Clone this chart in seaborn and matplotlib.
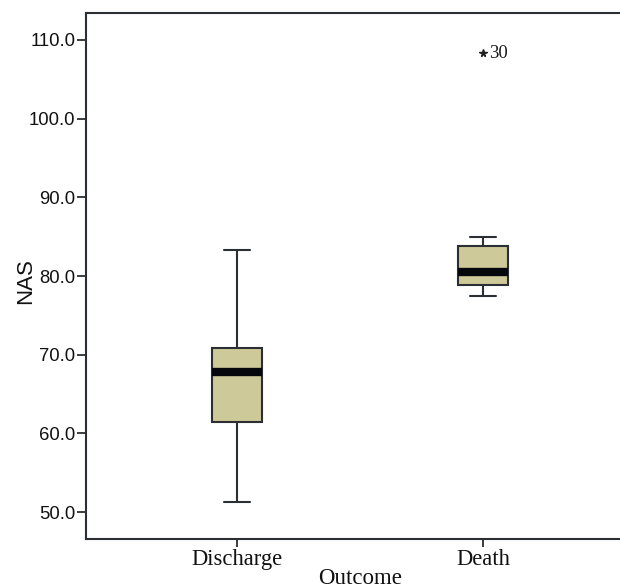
import numpy as np
import pandas as pd
import matplotlib
matplotlib.use('Agg')
import matplotlib.pyplot as plt
import seaborn as sns

# summary values (NAS by outcome)
groups = ['Discharge', 'Death']
whisk_low = [51.3, 77.5]
q1 = [61.5, 78.8]
median = [67.8, 80.5]
q3 = [70.9, 83.8]
whisk_high = [83.3, 84.9]
outliers = [[], [108.3]]
outlier_ids = [[], ['30']]

# build a small sample per group that reproduces the five-number summary
rows = []
for i, g in enumerate(groups):
    vals = [whisk_low[i], q1[i], q1[i], median[i], median[i], q3[i], q3[i], whisk_high[i]] + outliers[i]
    rows += [(g, v) for v in vals]
df = pd.DataFrame(rows, columns=['Outcome', 'NAS'])

sns.set_style('white')
plt.rcParams['font.family'] = ['Liberation Sans', 'DejaVu Sans']

fig = plt.figure(figsize=(6.2, 5.88), dpi=100)
ax = fig.add_axes([0.1387, 0.0833, 0.8613, 0.8946])

edge = '#2b2f33'
sns.boxplot(data=df, x='Outcome', y='NAS', order=groups, ax=ax, width=0.205,
            color='#cdc998', saturation=1, linewidth=1.5,
            boxprops=dict(facecolor='#cdc998', edgecolor=edge),
            whiskerprops=dict(color=edge), capprops=dict(color=edge),
            medianprops=dict(color='#05070c', linewidth=6),
            flierprops=dict(marker='*', markersize=5.5, markerfacecolor='#222222',
                            markeredgecolor='#222222'))

for i, g in enumerate(groups):
    for v, lab in zip(outliers[i], outlier_ids[i]):
        ax.annotate(lab, (i, v), xytext=(4.5, 0), textcoords='offset points',
                    va='center', ha='left', fontsize=13.5, family='Liberation Serif',
                    color='#1a1a1a')

ax.set_xlim(-0.614, 1.557)
ax.set_ylim(46.57, 113.43)
ax.set_yticks([50, 60, 70, 80, 90, 100, 110])
ax.set_yticklabels([f'{t:.1f}' for t in [50, 60, 70, 80, 90, 100, 110]], fontsize=13.3)
ax.set_xticks(range(len(groups)))
ax.set_xticklabels(groups, fontsize=16.3, family='Liberation Serif')
ax.tick_params(axis='both', direction='out', length=6.5, width=1.3, color=edge,
               pad=1, labelcolor='#111111', left=True, bottom=True)
ax.tick_params(axis='x', length=6, pad=1.5)

for s in ['left', 'top', 'bottom']:
    ax.spines[s].set_color(edge)
    ax.spines[s].set_linewidth(1.5)
ax.spines['right'].set_visible(False)

ax.set_ylabel('NAS', fontsize=16, color='#111111')
ax.yaxis.set_label_coords(-0.094, 0.49)
ax.set_xlabel('Outcome', fontsize=16.5, family='Liberation Serif', color='#111111')
ax.xaxis.set_label_coords(0.513, -0.056)

fig.savefig('out.png', dpi=100)
